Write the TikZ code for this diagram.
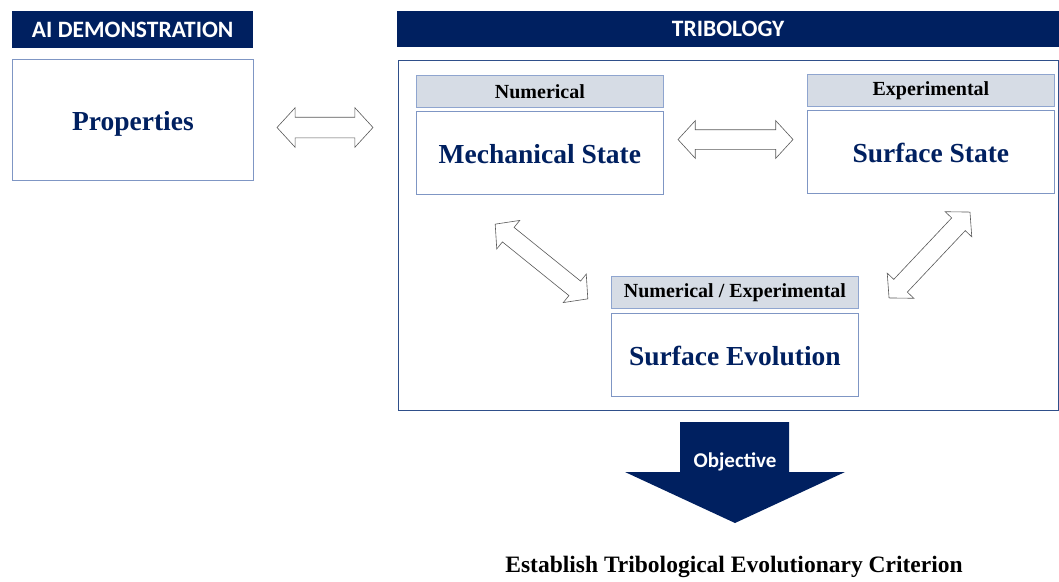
\documentclass[tikz,border=0pt]{standalone}
\usepackage{fontspec}
\setmainfont{Liberation Serif}
\newfontfamily\calib{Carlito}
\usetikzlibrary{shapes.arrows,calc}
\definecolor{navy}{HTML}{002060}
\definecolor{boxline}{HTML}{7F96C4}
\definecolor{labfill}{HTML}{D6DCE5}
\definecolor{labline}{HTML}{8FA5CF}
\definecolor{arrline}{HTML}{5A5A5A}
\definecolor{framecol}{HTML}{2F4F8A}
\begin{document}
\begin{tikzpicture}[x=1pt,y=-1pt,
  header/.style={fill=navy, text=white, font=\calib\bfseries\fontsize{23.5}{26}\selectfont, inner sep=0pt, anchor=north west},
  mainbox/.style={draw=boxline, line width=0.8pt, fill=white, text=navy, font=\bfseries\fontsize{27.5}{30}\selectfont, inner sep=0pt, anchor=north west, minimum width=247pt, minimum height=83pt, text height=21pt, text depth=0pt},
  labelbox/.style={draw=labline, line width=0.8pt, fill=labfill, font=\bfseries\fontsize{20}{22}\selectfont, inner sep=0pt, anchor=north west, minimum width=247pt, minimum height=32pt},
  link/.style={double arrow, draw=arrline, fill=white, line width=0.6pt, double arrow tip angle=95, inner xsep=0pt, inner ysep=10pt, double arrow head extend=9.5pt, minimum width=39pt}
]
\useasboundingbox (0,0) rectangle (1059,581);
\fill[white] (0,0) rectangle (1059,581);

% headers
\node[header, minimum width=241pt, minimum height=37pt] (hai) at (12,11) {AI DEMONSTRATION};
\node[header, minimum width=662pt, minimum height=36pt] (htrib) at (397,11) {TRIBOLOGY};

% left box
\node[mainbox, minimum width=241pt, minimum height=121pt] (prop) at (12,59) {Properties};

% tribology frame
\node[draw=framecol, line width=1pt, anchor=north west, minimum width=660pt, minimum height=350pt, inner sep=0pt] (trib) at (397.5,60) {};

% inner blocks
\node[labelbox] (lnum) at (416,75) {Numerical};
\node[mainbox] (mech) at (416,111) {Mechanical State};
\node[labelbox] (lexp) at (807,74) {Experimental};
\node[mainbox] (surf) at (807,110) {Surface State};
\node[labelbox] (lne) at (611,276) {Numerical / Experimental};
\node[mainbox] (evol) at (611,313) {Surface Evolution};

% block double arrows
\node[link, minimum height=96pt] (a1) at (325,127.5) {};
\node[link, minimum height=115pt, inner ysep=9.5pt, double arrow head extend=9pt, minimum width=37pt] (a2) at (735.5,139.5) {};
\node[link, minimum height=119pt, inner ysep=9pt, double arrow head extend=9pt, minimum width=36pt, rotate=-38.9] (a3) at (541.5,261.5) {};
\node[link, minimum height=118pt, inner ysep=9pt, double arrow head extend=9pt, minimum width=36pt, rotate=46.7] (a4) at (929.5,255) {};

% objective arrow
\fill[navy] (680,422) -- (789,422) -- (789,472) -- (845,472) -- (735,523) -- (625,472) -- (680,472) -- cycle;
\node[text=white, font=\calib\bfseries\fontsize{21}{24}\selectfont, inner sep=0pt] (obj) at (735,462) {Objective};

% result
\node[font=\bfseries\fontsize{23.5}{26}\selectfont, inner sep=0pt] (crit) at (734,567) {Establish Tribological Evolutionary Criterion};
\end{tikzpicture}
\end{document}
